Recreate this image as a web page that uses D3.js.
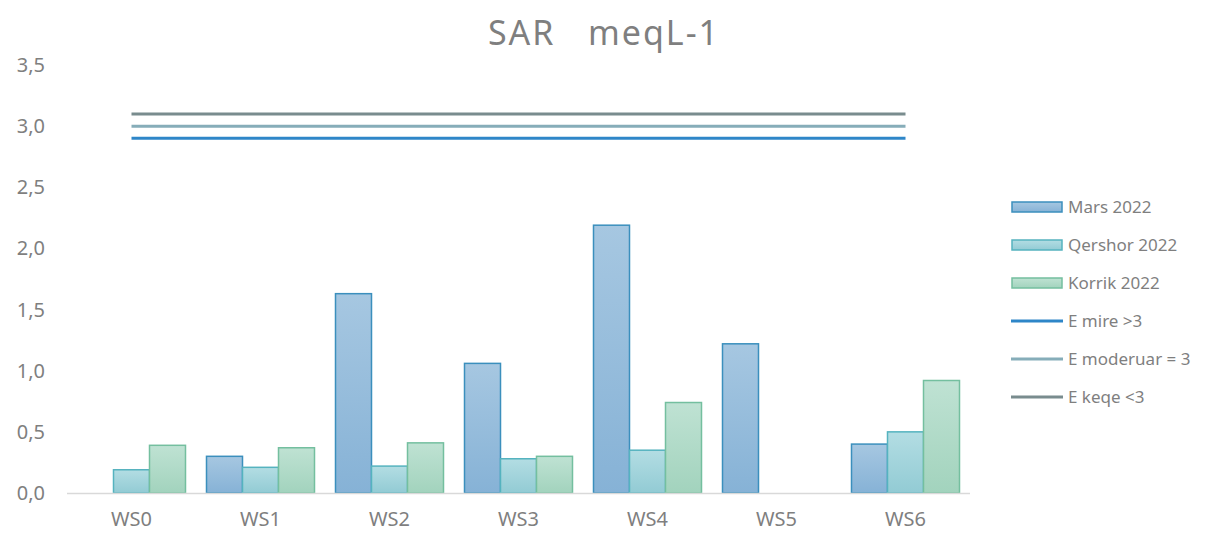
<!DOCTYPE html>
<html>
<head>
    <meta charset="UTF-8">
    <title>SAR meqL-1</title>
    <script src="https://d3js.org/d3.v7.min.js"></script>
    <style>
        body { margin: 0; padding: 0; background: #fff; }
        svg text { font-family: "Noto Sans", "DejaVu Sans", sans-serif; fill: #7f7f7f; }
    </style>
</head>
<body>
    <svg id="chart" width="1207" height="533"></svg>

    <script>
        const categories = ["WS0", "WS1", "WS2", "WS3", "WS4", "WS5", "WS6"];
        const mars2022 = [0, 0.30, 1.63, 1.06, 2.19, 1.22, 0.40];
        const qershor2022 = [0.19, 0.21, 0.22, 0.28, 0.35, 0, 0.50];
        const korrik2022 = [0.39, 0.37, 0.41, 0.30, 0.74, 0, 0.92];
        const eMire = [2.9, 2.9, 2.9, 2.9, 2.9, 2.9, 2.9];
        const eModeruar = [3.0, 3.0, 3.0, 3.0, 3.0, 3.0, 3.0];
        const eKeqe = [3.1, 3.1, 3.1, 3.1, 3.1, 3.1, 3.1];
        const yTicks = [0, 0.5, 1, 1.5, 2, 2.5, 3, 3.5];

        const barSeries = [
            { name: "Mars 2022", values: mars2022, top: "#a6c7e1", bottom: "#86b2d6", stroke: "#3b8fbd" },
            { name: "Qershor 2022", values: qershor2022, top: "#b3dde3", bottom: "#92cbd4", stroke: "#55b3bf" },
            { name: "Korrik 2022", values: korrik2022, top: "#bfe2d3", bottom: "#a2d3bd", stroke: "#74bf9f" }
        ];
        const lineSeries = [
            { name: "E mire >3", values: eMire, color: "#2e86c8" },
            { name: "E moderuar = 3", values: eModeruar, color: "#86adb9" },
            { name: "E keqe <3", values: eKeqe, color: "#798c8e" }
        ];

        const svg = d3.select("#chart");
        const plotLeft = 67, plotRight = 970, plotTop = 65, plotBottom = 493;

        const x = d3.scaleBand().domain(categories).range([plotLeft, plotRight]).padding(0);
        const bw = 36;
        const xs = d3.scaleBand().domain(barSeries.map(s => s.name))
            .range([0, bw * 3]);
        const y = d3.scaleLinear().domain([0, 3.5]).range([plotBottom, plotTop]);

        const defs = svg.append("defs");
        barSeries.forEach((s, i) => {
            const g = defs.append("linearGradient").attr("id", "grad" + i)
                .attr("x1", 0).attr("y1", 0).attr("x2", 0).attr("y2", 1);
            g.append("stop").attr("offset", "0%").attr("stop-color", s.top);
            g.append("stop").attr("offset", "100%").attr("stop-color", s.bottom);
        });

        // title
        svg.append("text")
            .attr("x", 604).attr("y", 45)
            .attr("text-anchor", "middle")
            .style("font-size", "34px")
            .style("letter-spacing", "2px")
            .style("white-space", "pre")
            .text("SAR   meqL-1");

        // y axis labels
        svg.append("g").selectAll("text")
            .data(yTicks)
            .enter().append("text")
            .attr("x", 45)
            .attr("y", d => y(d) + 7)
            .attr("text-anchor", "end")
            .style("font-size", "20px")
            .text(d => d3.format(".1f")(d).replace(".", ","));

        // bars
        barSeries.forEach((s, i) => {
            svg.append("g").selectAll("rect")
                .data(s.values.map((v, j) => ({ v, c: categories[j] })).filter(d => d.v > 0))
                .enter().append("rect")
                .attr("x", d => x(d.c) + x.bandwidth() / 2 - bw * 1.5 + xs(s.name))
                .attr("y", d => y(d.v))
                .attr("width", xs.bandwidth())
                .attr("height", d => y(0) - y(d.v))
                .attr("fill", "url(#grad" + i + ")")
                .attr("stroke", s.stroke)
                .attr("stroke-width", 1.5);
        });

        // x axis line
        svg.append("line")
            .attr("x1", plotLeft).attr("x2", plotRight)
            .attr("y1", plotBottom + 0.5).attr("y2", plotBottom + 0.5)
            .attr("stroke", "#d9d9d9").attr("stroke-width", 1.5);

        svg.append("g").selectAll("text")
            .data(categories)
            .enter().append("text")
            .attr("x", d => x(d) + x.bandwidth() / 2)
            .attr("y", 526)
            .attr("text-anchor", "middle")
            .style("font-size", "20px")
            .text(d => d);

        // threshold lines
        const line = d3.line()
            .x((d, j) => x(categories[j]) + x.bandwidth() / 2)
            .y(d => y(d));
        lineSeries.forEach(s => {
            svg.append("path")
                .datum(s.values)
                .attr("d", line)
                .attr("fill", "none")
                .attr("stroke", s.color)
                .attr("stroke-width", 3);
        });

        // legend
        const legend = svg.append("g");
        const items = barSeries.map((s, i) => ({ name: s.name, type: "bar", s, i }))
            .concat(lineSeries.map(s => ({ name: s.name, type: "line", s })));
        items.forEach((it, k) => {
            const ly = 207 + k * 38;
            if (it.type === "bar") {
                legend.append("rect")
                    .attr("x", 1012).attr("y", ly - 5)
                    .attr("width", 50).attr("height", 10)
                    .attr("fill", "url(#grad" + it.i + ")")
                    .attr("stroke", it.s.stroke).attr("stroke-width", 1.5);
            } else {
                legend.append("line")
                    .attr("x1", 1011).attr("x2", 1063)
                    .attr("y1", ly).attr("y2", ly)
                    .attr("stroke", it.s.color).attr("stroke-width", 3);
            }
            legend.append("text")
                .attr("x", 1068).attr("y", ly + 6)
                .style("font-size", "17px")
                .text(it.name);
        });
    </script>
</body>
</html>
